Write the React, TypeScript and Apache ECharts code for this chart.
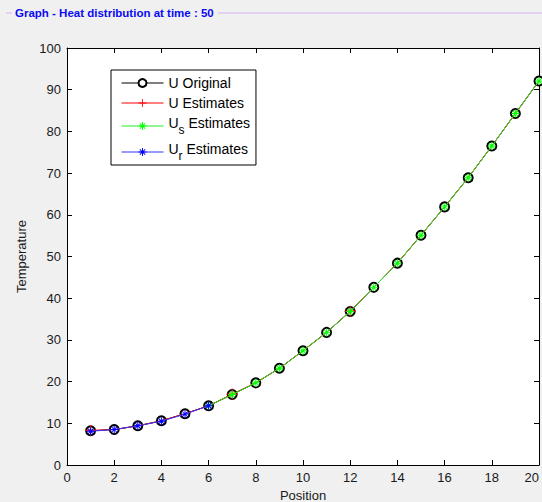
import React, { useEffect, useRef } from "react";
import * as echarts from "echarts";

const titleText = "Graph - Heat distribution at time : 50";
const positions = [1, 2, 3, 4, 5, 6, 7, 8, 9, 10, 11, 12, 13, 14, 15, 16, 17, 18, 19, 20];
const uOriginal = [8.2, 8.5, 9.4, 10.6, 12.3, 14.2, 16.9, 19.7, 23.2, 27.4, 31.8, 36.8, 42.6, 48.4, 55.1, 61.9, 68.9, 76.5, 84.3, 92.1];
const uEstimates = [8.3, 8.5, 9.4, 10.6, 12.3, 14.2, 17.0, 19.7, 23.2, 27.4, 31.8, 36.9, 42.6, 48.4, 55.1, 61.9, 68.9, 76.5, 84.3, 92.1];
const uEstimateMarkerAt = [1, 7, 12];
const usEstimates = [null, null, null, null, null, 14.2, 16.9, 19.7, 23.2, 27.4, 31.8, 36.8, 42.6, 48.4, 55.1, 61.9, 68.9, 76.5, 84.3, 92.1];
const urEstimates = [8.1, 8.5, 9.4, 10.5, 12.2, 14.2, null, null, null, null, null, null, null, null, null, null, null, null, null, null];
const seriesNames = ["U Original", "U Estimates", "Us Estimates", "Ur Estimates"];

const PLUS = "path://M4.5,0h1v10h-1zM0,4.5h10v1h-10z";
const STAR =
  "path://M4.4,0h1.2v10h-1.2zM0,4.4h10v1.2h-10zM1.3,2.1l0.8,-0.8l6.6,6.6l-0.8,0.8zM7.9,1.3l0.8,0.8l-6.6,6.6l-0.8,-0.8z";

export default function App() {
  const ref = useRef<HTMLDivElement>(null);
  useEffect(() => {
    if (!ref.current) return;
    const chart = echarts.init(ref.current, null, { renderer: "svg" });
    const font = "Liberation Sans, Arial, sans-serif";
    const axisCommon = {
      min: 0,
      axisLine: { show: true, onZero: false, lineStyle: { color: "#000", width: 1 } },
      axisTick: { show: true, inside: true, length: 5, lineStyle: { color: "#000" } },
      splitLine: { show: false },
    };
    const pair = (arr: (number | null)[]) => positions.map((p, i) => [p, arr[i]]);
    chart.setOption({
      animation: false,
      backgroundColor: "#f0f0f0",
      textStyle: { fontFamily: font },
      grid: {
        left: 67,
        right: 3,
        top: 48,
        bottom: 37,
        outerBoundsMode: "none",
        containLabel: false,
        show: true,
        backgroundColor: "#ffffff",
        borderWidth: 0,
      },
      graphic: [
        { type: "line", shape: { x1: 6, y1: 13, x2: 12, y2: 13 }, style: { stroke: "#d8b4fa", lineWidth: 1 } },
        { type: "line", shape: { x1: 218, y1: 13, x2: 542, y2: 13 }, style: { stroke: "#d8b4fa", lineWidth: 1 } },
        {
          type: "text",
          x: 15,
          y: 13,
          style: {
            text: titleText,
            fill: "#0a0af5",
            font: "bold 11.5px Liberation Sans, Arial, sans-serif",
            verticalAlign: "middle",
          },
        },
      ],
      legend: {
        orient: "vertical",
        left: 111,
        top: 70,
        padding: [6, 6, 3, 10],
        itemGap: 6,
        itemWidth: 42,
        itemHeight: 10,
        backgroundColor: "#ffffff",
        borderColor: "#000",
        borderWidth: 1,
        borderRadius: 0,
        lineStyle: { width: 1 },
        itemStyle: { borderWidth: 1 },
        data: seriesNames,
        formatter: (name: string) => {
          if (name === "Us Estimates") return "{a|U}{sub|s}{a| Estimates}";
          if (name === "Ur Estimates") return "{a|U}{sub|r}{a| Estimates}";
          return "{a|" + name + "}";
        },
        textStyle: {
          color: "#000",
          fontSize: 14,
          rich: {
            a: { fontSize: 14, fontFamily: font, color: "#000", verticalAlign: "top" },
            sub: { fontSize: 12, fontFamily: font, color: "#000", padding: [8, 0, 0, 0] },
          },
        },
      },
      xAxis: [
        {
          ...axisCommon,
          type: "value",
          max: 20,
          interval: 2,
          position: "bottom",
          name: "Position",
          nameLocation: "middle",
          nameGap: 18,
          nameTextStyle: { fontSize: 13, color: "#1a1a1a", fontFamily: font },
          axisLabel: { fontSize: 13, color: "#1a1a1a", margin: 6, fontFamily: font, alignMaxLabel: "right" },
        },
        {
          ...axisCommon,
          type: "value",
          max: 20,
          interval: 2,
          position: "top",
          axisLabel: { show: false },
        },
      ],
      yAxis: [
        {
          ...axisCommon,
          type: "value",
          max: 100,
          interval: 10,
          position: "left",
          name: "Temperature",
          nameLocation: "middle",
          nameGap: 36,
          nameTextStyle: { fontSize: 13, color: "#1a1a1a", fontFamily: font },
          axisLabel: { fontSize: 13, color: "#1a1a1a", margin: 6, fontFamily: font },
        },
        {
          ...axisCommon,
          type: "value",
          max: 100,
          interval: 10,
          position: "right",
          axisLabel: { show: false },
        },
      ],
      series: [
        {
          name: seriesNames[0],
          type: "line",
          data: pair(uOriginal),
          symbol: "emptyCircle",
          symbolSize: 9,
          color: "#000000",
          lineStyle: { color: "#000000", width: 1 },
          itemStyle: { color: "#000000", borderColor: "#000000", borderWidth: 1 },
          z: 2,
        },
        {
          name: seriesNames[1],
          type: "line",
          data: positions.map((p, i) => ({
            value: [p, uEstimates[i]],
            symbolSize: uEstimateMarkerAt.includes(p) ? 11 : 0,
          })),
          symbol: PLUS,
          color: "#ff0000",
          lineStyle: { color: "#ff0000", width: 1 },
          itemStyle: { color: "#ff0000" },
          z: 3,
        },
        {
          name: seriesNames[2],
          type: "line",
          data: pair(usEstimates),
          symbol: STAR,
          symbolSize: 8,
          color: "#00ff00",
          lineStyle: { color: "#22ee22", width: 1 },
          itemStyle: { color: "#00ff00" },
          z: 4,
        },
        {
          name: seriesNames[3],
          type: "line",
          data: pair(urEstimates),
          symbol: STAR,
          symbolSize: 8,
          color: "#0000ff",
          lineStyle: { color: "#3333ff", width: 1 },
          itemStyle: { color: "#0000ff" },
          z: 5,
        },
      ],
    });
    return () => chart.dispose();
  }, []);
  return <div ref={ref} style={{ position: "fixed", left: 0, top: 0, width: 542, height: 502 }} />;
}
